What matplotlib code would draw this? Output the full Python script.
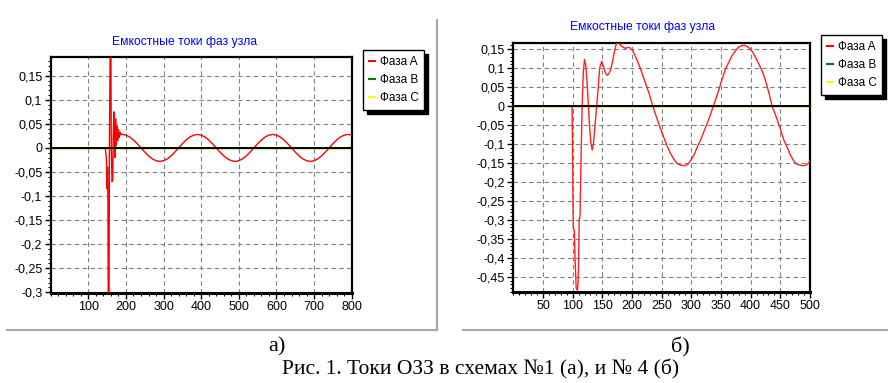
import matplotlib
matplotlib.use("Agg")
import matplotlib.pyplot as plt
from matplotlib.lines import Line2D
from matplotlib.ticker import FixedLocator, MultipleLocator, FuncFormatter

plt.rcParams['font.family'] = ['Liberation Sans', 'DejaVu Sans']

# ---------------- data: left chart (scheme 1) ----------------
left_title = "Емкостные токи фаз узла"
legend_labels = ["Фаза A", "Фаза B", "Фаза C"]

left_x = [0, 145, 148, 150, 151, 152, 153, 155, 156, 158, 160, 161, 163, 165, 166, 168,
          169, 170, 171, 172, 173, 174, 176, 178, 180, 182, 184, 186, 188, 190,
          200, 210, 220, 230, 240, 250, 260, 270, 280, 290,
          300, 310, 320, 330, 340, 350, 360, 370, 380, 390,
          400, 410, 420, 430, 440, 450, 460, 470, 480, 490,
          500, 510, 520, 530, 540, 550, 560, 570, 580, 590,
          600, 610, 620, 630, 640, 650, 660, 670, 680, 690,
          700, 710, 720, 730, 740, 750, 760, 770, 780, 790, 800]
left_a = [0, 0, -0.02, -0.085, -0.04, -0.085, -0.33, -0.33, 0.0, 0.21, 0.21, 0.0, -0.07, -0.065, 0.02, 0.075,
          0.07, -0.01, -0.02, 0.06, 0.06, 0.005, 0.045, 0.015, 0.038, 0.022, 0.033, 0.027, 0.029, 0.028,
          0.0266, 0.0227, 0.0165, 0.0087, 0.0, -0.0087, -0.0165, -0.0227, -0.0266, -0.028,
          -0.0266, -0.0227, -0.0165, -0.0087, 0.0, 0.0087, 0.0165, 0.0227, 0.0266, 0.028,
          0.0266, 0.0227, 0.0165, 0.0087, 0.0, -0.0087, -0.0165, -0.0227, -0.0266, -0.028,
          -0.0266, -0.0227, -0.0165, -0.0087, 0.0, 0.0087, 0.0165, 0.0227, 0.0266, 0.028,
          0.0266, 0.0227, 0.0165, 0.0087, 0.0, -0.0087, -0.0165, -0.0227, -0.0266, -0.028,
          -0.0266, -0.0227, -0.0165, -0.0087, 0.0, 0.0087, 0.0165, 0.0227, 0.0266, 0.028, 0.0266]
left_bc_x = [0, 800]
left_b = [0, 0]
left_c = [0, 0]
left_xticks = [100, 200, 300, 400, 500, 600, 700, 800]
left_yticks = [-0.3, -0.25, -0.2, -0.15, -0.1, -0.05, 0, 0.05, 0.1, 0.15]

# ---------------- data: right chart (scheme 4) ----------------
right_x = [0, 99, 100, 101, 103, 104, 106, 108, 109, 110, 111, 112.5, 114, 116, 118, 120, 122,
           124.5, 128.5, 131, 133, 135, 137, 140.5, 143, 145.5, 149, 152, 155, 158, 161, 164,
           167, 170, 174, 177, 181, 185, 189, 193, 196, 201, 206, 212, 218, 223, 229, 235,
           243, 251, 260, 265, 271, 276, 282, 290, 295, 299, 305, 310, 316, 321, 327, 333,
           337, 342, 347, 352, 358, 364, 369, 375, 380, 385, 389, 393, 397, 403, 408, 414,
           420, 424, 428, 432, 436, 441, 445, 451, 456, 462, 467, 472, 476, 481, 487, 493,
           497, 500]
right_a = [0, 0, -0.15, -0.32, -0.33, -0.40, -0.48, -0.485, -0.47, -0.42, -0.30, -0.29, -0.15, 0.0, 0.09, 0.123, 0.11,
           0.06, -0.055, -0.10, -0.116, -0.10, -0.065, 0.0, 0.046, 0.10, 0.118, 0.105, 0.088, 0.081, 0.085, 0.095,
           0.115, 0.14, 0.167, 0.168, 0.16, 0.155, 0.152, 0.155, 0.154, 0.147, 0.13, 0.108, 0.082, 0.059, 0.033, 0.0,
           -0.037, -0.072, -0.108, -0.125, -0.141, -0.151, -0.156, -0.157, -0.152, -0.143, -0.127, -0.108, -0.088, -0.068, -0.045, -0.019,
           0.0, 0.022, 0.046, 0.072, 0.099, 0.118, 0.134, 0.147, 0.156, 0.159, 0.16, 0.158, 0.154, 0.143, 0.129, 0.11,
           0.09, 0.072, 0.051, 0.027, 0.0, -0.02, -0.037, -0.065, -0.09, -0.11, -0.129, -0.143, -0.151, -0.155, -0.157, -0.156,
           -0.151, -0.145]
right_bc_x = [0, 500]
right_b = [0, 0]
right_c = [0, 0]
right_xticks = [50, 100, 150, 200, 250, 300, 350, 400, 450, 500]
right_yticks = [-0.45, -0.4, -0.35, -0.3, -0.25, -0.2, -0.15, -0.1, -0.05, 0, 0.05, 0.1, 0.15]

caption_a = "а)"
caption_b = "б)"
caption = "Рис. 1. Токи ОЗЗ в схемах №1 (а), и № 4 (б)"

W, H = 888, 383
fig = plt.figure(figsize=(W / 100, H / 100), dpi=100)
fig.patch.set_facecolor('white')


def fx(px):
    return px / W


def fy(py):
    return 1 - py / H


def comma(v, pos=None):
    if abs(v) < 1e-9:
        return "0"
    s = ("%.2f" % v).rstrip('0').rstrip('.')
    return s.replace('.', ',')


def style_axes(ax, xlim, ylim, xticks, yticks, xminor, yminor):
    ax.set_xlim(*xlim)
    ax.set_ylim(*ylim)
    ax.xaxis.set_major_locator(FixedLocator(xticks))
    ax.yaxis.set_major_locator(FixedLocator(yticks))
    ax.xaxis.set_minor_locator(MultipleLocator(xminor))
    ax.yaxis.set_minor_locator(MultipleLocator(yminor))
    ax.xaxis.set_major_formatter(FuncFormatter(lambda v, p: "%d" % round(v)))
    ax.yaxis.set_major_formatter(FuncFormatter(comma))
    ax.tick_params(which='major', direction='out', length=4, width=1, labelsize=9, colors='black', pad=2)
    ax.tick_params(which='minor', direction='out', length=2, width=0.8)
    ax.grid(True, which='major', color='#808080', linestyle=(0, (4, 3)), linewidth=0.8)
    for s in ax.spines.values():
        s.set_linewidth(1.6)
        s.set_color('black')
    ax.spines['bottom'].set_linewidth(2.2)
    ax.axhline(0, color='black', linewidth=1.4, zorder=4)


# Left chart
ax1 = fig.add_axes([fx(50.7), fy(292.7), fx(351.7 - 50.7), (292.7 - 57) / H])
ax1.plot(left_bc_x, left_b, color='#008000', linewidth=1, zorder=2)
ax1.plot(left_bc_x, left_c, color='#ffff00', linewidth=1, zorder=2)
ax1.plot(left_x, left_a, color='#ff0000', linewidth=1.0, zorder=3)
style_axes(ax1, (0, 800), (-0.301, 0.189), left_xticks, left_yticks, 20, 0.01)

# Right chart
ax2 = fig.add_axes([fx(513.3), fy(292), fx(810 - 513.3), (292 - 42.7) / H])
ax2.plot(right_bc_x, right_b, color='#008000', linewidth=1, zorder=2)
ax2.plot(right_bc_x, right_c, color='#ffff00', linewidth=1, zorder=2)
ax2.plot(right_x, right_a, color='#ff2020', linewidth=1.0, zorder=3)
style_axes(ax2, (0, 500), (-0.49, 0.167), right_xticks, right_yticks, 10, 0.01)

# Titles
fig.text(fx(185), fy(42), left_title, color='#0000ff', fontsize=8.7, ha='center', va='center')
fig.text(fx(643), fy(27), left_title, color='#0000ff', fontsize=8.7, ha='center', va='center')

# Legends
handles = [Line2D([], [], color=c, linewidth=1.5) for c in ['#ff0000', '#008000', '#ffff00']]
for anchor in [(fx(363), fy(50)), (fx(821), fy(35))]:
    leg = fig.legend(handles, legend_labels, loc='upper left', bbox_to_anchor=anchor,
                     frameon=True, fancybox=False, fontsize=8.5, handlelength=0.55,
                     handletextpad=0.35, borderpad=0.5, borderaxespad=0, labelspacing=0.5,
                     shadow={'color': 'black', 'alpha': 1, 'ox': 3, 'oy': -3})
    leg.get_frame().set_edgecolor('black')
    leg.get_frame().set_linewidth(1)

# Panel frame lines
frame_col = '#a8a8a8'
fig.add_artist(Line2D([fx(437), fx(437)], [fy(20), fy(330)], color=frame_col, linewidth=1.5))
fig.add_artist(Line2D([fx(7), fx(437)], [fy(330), fy(330)], color=frame_col, linewidth=1.5))
fig.add_artist(Line2D([fx(463), fx(888)], [fy(330), fy(330)], color=frame_col, linewidth=1.5))

# Captions
serif = ['Liberation Serif', 'DejaVu Serif']
fig.text(fx(277), fy(347), caption_a, family=serif, fontsize=16, ha='center', va='center')
fig.text(fx(680), fy(347), caption_b, family=serif, fontsize=16, ha='center', va='center')
fig.text(fx(481), fy(369), caption, family=serif, fontsize=15.5, ha='center', va='center')

fig.savefig('out.png', dpi=100, facecolor='white')
